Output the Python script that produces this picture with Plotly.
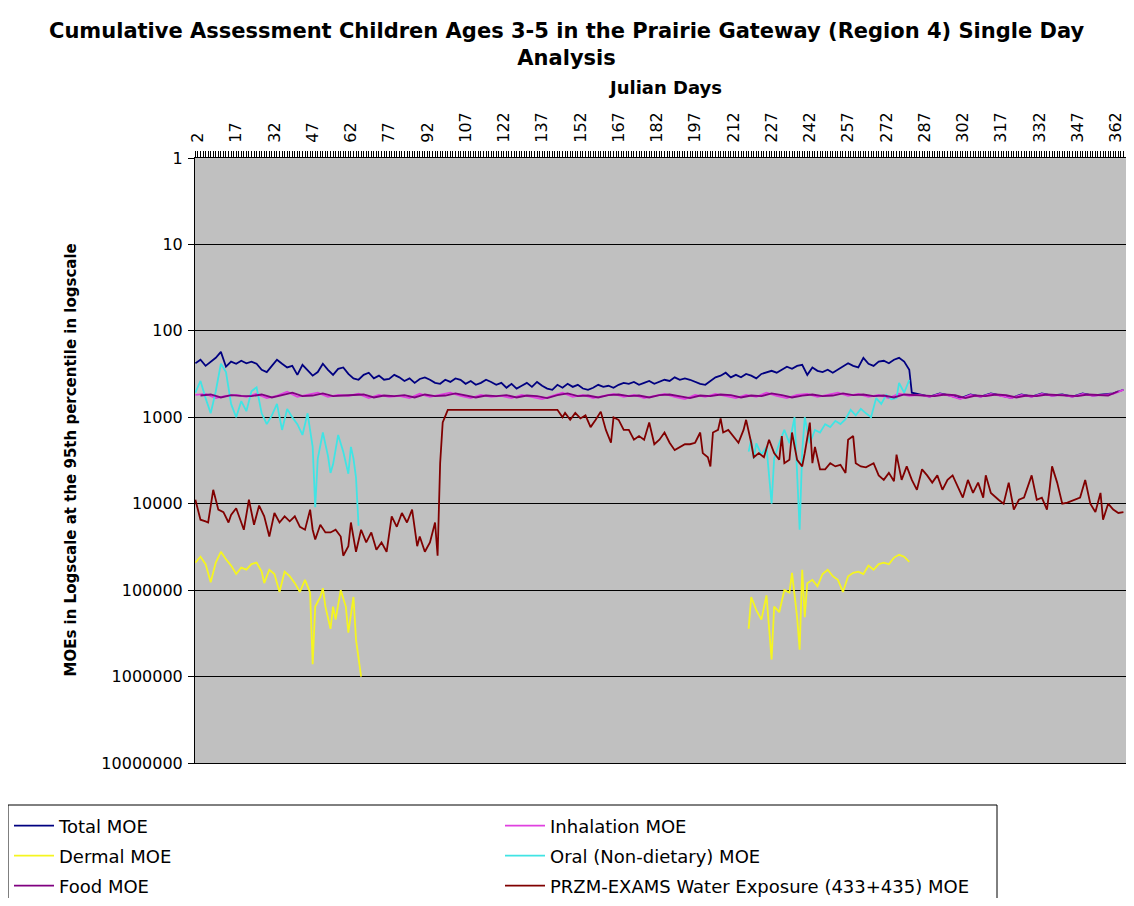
import plotly.graph_objects as go

# ---------------- data ----------------
tick_days = list(range(2, 363, 15))
y_ticks = [1, 10, 100, 1000, 10000, 100000, 1000000, 10000000]
y_tick_text = ["1", "10", "100", "1000", "10000", "100000", "1000000", "10000000"]

total_days = [1, 3, 5, 7, 9, 11, 13, 15, 17, 19, 21, 23, 25, 27, 29, 31, 33, 35, 37, 39, 41, 43, 45, 47, 49,
              51, 53, 55, 57, 59, 61, 63, 65, 67, 69, 71, 73, 75, 77, 79, 81, 83, 85, 87, 89, 91, 93, 95, 97, 99,
              101, 103, 105, 107, 109, 111, 113, 115, 117, 119, 121, 123, 125, 127, 129, 131, 133, 135, 137, 139,
              141, 143, 145, 147, 149, 151, 153, 155, 157, 159, 161, 163, 165, 167, 169, 171, 173, 175, 177, 179,
              181, 183, 185, 187, 189, 191, 193, 195, 197, 199, 201, 203, 205, 207, 209, 211, 213, 215, 217, 219,
              221, 223, 225, 227, 229, 231, 233, 235, 237, 239, 241, 243, 245, 247, 249, 251, 253, 255, 257, 259,
              261, 263, 265, 267, 269, 271, 273, 275, 277, 279, 281, 282, 285, 289, 293, 297, 301, 305, 309, 313,
              317, 321, 325, 329, 333, 337, 341, 345, 349, 353, 357, 361, 365]
total_moe = [237, 216, 254, 227, 205, 175, 260, 227, 240, 222, 237, 227, 240, 282, 300, 254, 216, 240, 265, 254,
             323, 247, 282, 330, 300, 240, 282, 323, 275, 265, 315, 355, 368, 323, 305, 355, 330, 368, 360, 323,
             345, 380, 355, 400, 360, 345, 368, 400, 410, 368, 390, 355, 368, 410, 380, 421, 400, 368, 390, 421,
             400, 455, 410, 465, 432, 400, 445, 390, 432, 465, 481, 421, 455, 410, 445, 421, 465, 481, 455, 421,
             445, 432, 455, 421, 400, 410, 390, 421, 400, 380, 410, 390, 368, 380, 345, 368, 355, 368, 390, 410,
             421, 380, 345, 330, 305, 345, 323, 345, 315, 330, 355, 315, 300, 290, 305, 282, 260, 275, 254, 247,
             323, 265, 290, 300, 282, 305, 282, 260, 237, 254, 265, 205, 240, 254, 227, 222, 237, 216, 205, 227,
             282, 520, 545, 575, 530, 560, 605, 545, 575, 530, 560, 595, 545, 575, 530, 560, 545, 575, 530, 560,
             545, 530, 480]

inhal_days = list(range(1, 366, 4))
inhal_moe = [550, 535, 600, 565, 550, 580, 535, 600, 565, 505, 580, 550, 520, 580, 550, 565, 535, 600, 550, 580,
             565, 600, 535, 580, 550, 520, 565, 600, 550, 580, 565, 600, 550, 580, 615, 565, 520, 580, 550, 600,
             565, 535, 580, 550, 600, 565, 535, 580, 615, 550, 580, 535, 565, 600, 550, 580, 520, 565, 600, 550,
             535, 580, 550, 520, 565, 535, 580, 550, 600, 535, 565, 550, 580, 535, 565, 615, 550, 580, 535, 565,
             600, 550, 580, 535, 565, 550, 580, 535, 565, 550, 535, 481]

food_days = list(range(3, 366, 4))
food_moe = [560, 545, 590, 555, 565, 570, 545, 590, 555, 520, 570, 560, 530, 570, 560, 555, 545, 590, 560, 570,
            555, 590, 545, 570, 560, 530, 555, 590, 560, 570, 555, 590, 560, 570, 600, 555, 530, 570, 560, 590,
            555, 545, 570, 560, 590, 555, 545, 570, 600, 560, 570, 545, 555, 590, 560, 570, 530, 555, 590, 560,
            545, 570, 560, 530, 555, 545, 570, 560, 590, 545, 555, 560, 570, 545, 555, 600, 560, 570, 545, 555,
            590, 560, 570, 545, 555, 560, 570, 545, 555, 560, 500]

dermal_days = [1, 3, 5, 7, 9, 11, 13, 15, 17, 19, 21, 23, 25, 27, 28, 30, 32, 34, 36, 38, 40, 42, 44, 46, 47,
               48, 50, 51, 52, 54, 55, 56, 58, 60, 61, 63, 64, 66, 142,
               218, 219, 221, 223, 225, 227, 228, 230, 232, 234, 235, 237, 238, 239, 240, 241, 243, 245, 247,
               249, 251, 253, 255, 257, 259, 261, 263, 265, 267, 269, 271, 273, 275, 277, 279, 281]
dermal_moe = [48000, 41000, 50000, 81000, 48000, 36000, 44000, 52000, 65000, 55000, 58000, 50000, 48000, 61000,
              83000, 58000, 65000, 105000, 61000, 69000, 83000, 105000, 76000, 107000, 720000, 155000, 120000,
              95000, 155000, 280000, 155000, 219000, 100000, 155000, 310000, 120000, 373000, 1000000, None,
              280000, 120000, 170000, 219000, 115000, 636000, 155000, 180000, 100000, 107000, 63000, 205000,
              490000, 58000, 205000, 83000, 76000, 90000, 65000, 58000, 69000, 76000, 105000, 69000, 63000,
              61000, 65000, 52000, 58000, 50000, 48000, 50000, 42000, 39000, 41000, 47000]

oral_days = [1, 3, 5, 7, 9, 11, 13, 15, 17, 19, 21, 23, 25, 27, 29, 31, 33, 35, 37, 39, 41, 43, 45, 47, 48, 49,
             51, 53, 54, 55, 57, 59, 61, 62, 63, 64, 65, 142,
             218, 219, 220, 221, 223, 225, 227, 228, 230, 232, 234, 236, 238, 239, 240, 242, 244, 246, 248, 250,
             252, 254, 256, 258, 260, 262, 264, 266, 268, 270, 272, 274, 276, 277, 279, 281]
oral_moe = [520, 380, 600, 900, 500, 240, 300, 700, 1000, 650, 850, 500, 450, 900, 1200, 950, 700, 1400, 800,
            1000, 1200, 1600, 900, 2200, 11000, 3000, 1500, 2800, 4400, 3500, 1600, 2500, 4500, 2200, 3000, 5000,
            18000, None,
            2500, 1800, 3000, 2000, 2700, 2200, 10000, 3000, 2000, 1400, 2000, 1000, 20000, 2500, 1000, 2000,
            1400, 1500, 1200, 1300, 1100, 1200, 1050, 820, 950, 800, 900, 1000, 600, 700, 550, 620, 600, 400,
            520, 370]

przm_days = [1, 2, 3, 5, 6, 8, 10, 12, 14, 15, 17, 19, 20, 22, 24, 26, 28, 30, 32, 34, 36, 38, 40, 42, 44, 46,
             47, 48, 50, 52, 54, 56, 58, 59, 61, 62, 64, 66, 68, 70, 72, 74, 76, 78, 80, 82, 84, 86, 88, 89, 91,
             93, 95, 96, 97, 98, 100, 143, 145, 146, 148, 150, 152, 154, 156, 158, 160, 162, 164, 165, 167, 169,
             171, 173, 175, 177, 179, 181, 183, 185, 187, 189, 191, 193, 195, 197, 199, 200, 202, 203, 204, 206,
             207, 208, 210, 212, 214, 216, 217, 219, 220, 222, 224, 226, 228, 230, 231, 232, 234, 235, 237, 239,
             240, 242, 243, 244, 246, 248, 250, 252, 254, 256, 257, 259, 260, 262, 264, 267, 269, 271, 273, 275,
             276, 278, 280, 282, 284, 286, 288, 290, 292, 294, 296, 298, 300, 302, 304, 306, 308, 310, 311, 313,
             316, 318, 320, 322, 324, 326, 329, 331, 333, 335, 336, 337, 339, 341, 343, 346, 348, 350, 352, 354,
             356, 357, 359, 361, 363, 365]
przm_moe = [9000, 11700, 15300, 16000, 16500, 6900, 11700, 12500, 16500, 13500, 11300, 16500, 20000, 9000, 17500,
            10500, 14000, 24000, 12800, 16500, 14000, 16000, 14000, 18500, 20000, 11700, 20000, 26000, 17500,
            21500, 21500, 20000, 24000, 40000, 31000, 16500, 36000, 20000, 28000, 21500, 34000, 28000, 36000,
            14000, 18500, 12800, 16500, 11700, 31000, 24000, 36000, 28000, 16500, 40000, 3400, 1150, 820, 820,
            1000, 890, 1070, 890, 1030, 950, 1300, 1070, 860, 1400, 1970, 1000, 1070, 1400, 1400, 1820, 1650,
            1820, 1150, 2050, 1820, 1500, 1970, 2400, 2200, 2050, 2050, 1970, 1500, 2600, 2900, 3700, 1500, 1400,
            1030, 1500, 1400, 1650, 1970, 1400, 1070, 1970, 2900, 2600, 2900, 1820, 2600, 3100, 1650, 3400, 3100,
            1500, 3100, 3700, 2600, 1150, 3400, 2200, 4000, 4000, 3400, 3700, 3550, 4400, 1820, 1650, 3400, 3700,
            3800, 3400, 4700, 5300, 4400, 5500, 2700, 5300, 3700, 5300, 6900, 4000, 4700, 5700, 4700, 6900, 5300,
            4700, 6200, 8500, 5300, 7500, 5700, 8500, 4700, 7500, 9000, 10000, 5700, 11700, 9000, 8500, 4700,
            9000, 8500, 11700, 6900, 3700, 5700, 10000, 9700, 9000, 8500, 5300, 10000, 12500, 7500, 15300, 10000,
            11700, 12800, 12500]

# ---------------- figure ----------------
# the page body has an 8px margin on every side, so the figure is 16px smaller than the window
# and everything is placed in figure pixels = reference pixels - 8
FONT = "DejaVu Sans, Verdana, sans-serif"
W, H = 1118, 890
L, R, T, B = 187, 0, 150, 135
pw = W - L - R
ph = H - T - B


def px_x(x):
    return (x - L) / pw


def px_y(y):
    return (H - B - y) / ph


fig = go.Figure()


def add(name, x, y, color, legend):
    fig.add_trace(go.Scatter(x=x, y=y, mode="lines", name=name, legend=legend,
                             line=dict(color=color, width=1.8), connectgaps=False,
                             hoverinfo="x+y+name"))


add("Total MOE", total_days, total_moe, "#000080", "legend")
add("Inhalation MOE", inhal_days, inhal_moe, "#E040E0", "legend")
add("Dermal MOE", dermal_days, dermal_moe, "#F5F520", "legend2")
add("Oral (Non-dietary) MOE", oral_days, oral_moe, "#40E4E4", "legend2")
add("Food MOE", food_days, food_moe, "#800080", "legend3")
add("PRZM-EXAMS Water Exposure (433+435) MOE", przm_days, przm_moe, "#800000", "legend3")


def leg(ycenter):
    return dict(orientation="h", x=px_x(1), xref="paper", xanchor="left",
                y=px_y(ycenter), yref="paper", yanchor="middle",
                bgcolor="rgba(0,0,0,0)", borderwidth=0, entrywidth=436, entrywidthmode="pixels",
                font=dict(family=FONT, size=18, color="black"), itemwidth=40)


fig.update_layout(
    width=W, height=H,
    margin=dict(l=L, r=R, t=T, b=B, autoexpand=False),
    paper_bgcolor="white", plot_bgcolor="#C0C0C0",
    font=dict(family=FONT, color="black"),
    legend=leg(818), legend2=leg(848), legend3=leg(878),
    xaxis=dict(side="top", range=[0.85, 366.0], tickvals=tick_days, ticktext=[str(d) for d in tick_days],
               tickangle=-90, ticks="outside", ticklen=6, tickcolor="black", tickwidth=1,
               ticklabelstandoff=5, ticklabeloverflow="allow",
               minor=dict(dtick=1, tick0=0, ticks="outside", ticklen=6, tickcolor="black", tickwidth=1,
                          showgrid=False),
               showgrid=False, zeroline=False, showline=True, linecolor="black", linewidth=1, mirror=True,
               tickfont=dict(family=FONT, size=16, color="black")),
    yaxis=dict(type="log", range=[7, 0], tickvals=y_ticks, ticktext=y_tick_text,
               ticks="outside", ticklen=6, tickcolor="black", showgrid=True, gridcolor="black", gridwidth=1,
               zeroline=False, showline=True, linecolor="black", linewidth=1, ticklabelstandoff=2,
               tickfont=dict(family=FONT, size=16, color="black")),
    shapes=[dict(type="rect", xref="paper", yref="paper", x0=px_x(0), x1=px_x(989), y0=px_y(797),
                 y1=px_y(896), line=dict(color="black", width=1), fillcolor="rgba(0,0,0,0)", layer="above")],
    annotations=[
        dict(text="<b>Cumulative Assessment Children Ages 3-5 in the Prairie Gateway (Region 4) Single Day<br>Analysis</b>",
             xref="paper", yref="paper", x=px_x(559), y=px_y(9), showarrow=False, xanchor="center",
             yanchor="top", align="center", font=dict(family=FONT, size=21, color="black")),
        dict(text="<b>Julian Days</b>", xref="paper", yref="paper", x=px_x(657), y=px_y(80), showarrow=False,
             xanchor="center", yanchor="middle", font=dict(family=FONT, size=18, color="black")),
        dict(text="<b>MOEs in Logscale at the 95th percentile in logscale</b>", xref="paper", yref="paper",
             x=px_x(62), y=0.5, textangle=-90, showarrow=False, xanchor="center", yanchor="middle",
             font=dict(family=FONT, size=15, color="black")),
    ],
)

fig.write_html("out.html")
